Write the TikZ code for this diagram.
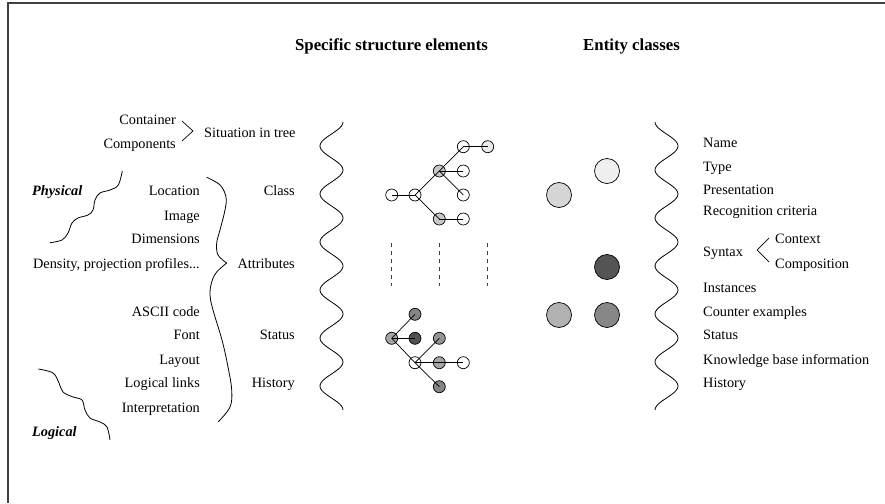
\documentclass[tikz,border=0pt]{standalone}
\usepackage{fontspec}
\setmainfont{Liberation Serif}
\begin{document}
\begin{tikzpicture}[x=1pt,y=-1pt,
  lt/.style={font=\fontsize{14.3}{17}\selectfont, inner sep=0pt, anchor=base east},
  rt/.style={font=\fontsize{14.3}{17}\selectfont, inner sep=0pt, anchor=base west},
  bi/.style={font=\fontsize{14.3}{17}\selectfont\bfseries\itshape, inner sep=0pt, anchor=base west},
  hd/.style={font=\fontsize{16.8}{20}\selectfont\bfseries, inner sep=0pt, anchor=base},
  dot/.style={circle, draw, minimum size=12pt, inner sep=0pt, line width=0.7pt, fill=white},
  big/.style={circle, draw, minimum size=25pt, inner sep=0pt, line width=0.7pt},
  edge/.style={line width=0.7pt},
  curve/.style={line width=0.8pt},
  dsh/.style={line width=0.8pt, black!75, dash pattern=on 4pt off 4pt}]
\useasboundingbox (0,0) rectangle (885,503);
\draw[line width=1.2pt, black!75] (8,503) -- (8,3) -- (885,3);

% headings
\node[hd] (h1) at (391.5,51) {Specific structure elements};
\node[hd] (h2) at (631.5,51) {Entity classes};

% left texts
\node[lt] (cont) at (176,124) {Container};
\node[lt] (comp) at (176,148) {Components};
\node[rt] (sit) at (204,137) {Situation in tree};
\draw[edge] (182,121) -- (193,131) -- (182,141);

\node[bi] (phys) at (32,195) {Physical};
\node[bi] (logi) at (32,436) {Logical};

\node[lt] (loc) at (200,195) {Location};
\node[lt] (img) at (200,220) {Image};
\node[lt] (dim) at (200,243) {Dimensions};
\node[lt] (den) at (200,268) {Density, projection profiles...};
\node[lt] (asc) at (200,316) {ASCII code};
\node[lt] (fon) at (200,339) {Font};
\node[lt] (lay) at (200,364) {Layout};
\node[lt] (lol) at (200,387) {Logical links};
\node[lt] (int) at (200,412) {Interpretation};

\node[lt] (cls) at (295,195) {Class};
\node[lt] (att) at (295,268) {Attributes};
\node[lt] (sta) at (295,339) {Status};
\node[lt] (his) at (295,387) {History};

% squiggles
\draw[curve] plot[smooth, tension=0.6] coordinates {(122.3,171) (118.3,185) (110,190) (100,193) (95,200) (93,210) (88,215) (78,218) (72,223) (68,233) (62,240) (50,242.7)};
\draw[curve] plot[smooth, tension=0.6] coordinates {(38.3,369) (53,373) (59,383) (63,392) (73,397) (82,400) (85,410) (90,418) (100,422) (107,427) (110,440)};

% big left brace
\draw[curve] plot[smooth, tension=0.6] coordinates {(206.7,177.3) (220,185) (226,197) (225,210) (220,230) (216.7,243) (218,255) (226.7,263)};
\draw[curve] plot[smooth, tension=0.6] coordinates {(226.7,263) (216.7,272) (211.7,282) (210,295) (213,310) (222,340) (228,367) (231.7,390) (230,407) (218.3,421.7)};

% wavy lines
\draw[curve] plot[domain=0:12, samples=150, smooth] ({331.5+11.5*cos(\x*180)}, {122+24*\x});
\draw[curve] plot[domain=0:12, samples=150, smooth] ({666.5-11.5*cos(\x*180)}, {122+24*\x});

% tree 1
\node[dot] (a) at (391.7,195) {};
\node[dot] (b) at (415,195) {};
\node[dot, fill=black!22] (c) at (439.3,171) {};
\node[dot] (d) at (463.3,146.7) {};
\node[dot, fill=black!8] (e) at (487.7,146.7) {};
\node[dot] (f) at (463.3,171) {};
\node[dot] (g) at (463.3,195) {};
\node[dot, fill=black!22] (hh) at (439.3,219) {};
\node[dot] (i) at (463.3,219) {};
\draw[edge] (a.center) -- (b.center);
\draw[edge] (b.center) -- (c.center);
\draw[edge] (c.center) -- (d.center);
\draw[edge] (d.center) -- (e.center);
\draw[edge] (c.center) -- (f.center);
\draw[edge] (c.center) -- (g.center);
\draw[edge] (b.center) -- (hh.center);
\draw[edge] (hh.center) -- (i.center);

% dashed
\coordinate (d1t) at (391.7,243); \coordinate (d1b) at (391.7,286);
\coordinate (d2t) at (439.3,243); \coordinate (d2b) at (439.3,286);
\coordinate (d3t) at (487.7,243); \coordinate (d3b) at (487.7,286);
\draw[dsh] (d1t) -- (d1b);
\draw[dsh] (d2t) -- (d2b);
\draw[dsh] (d3t) -- (d3b);

% tree 2
\node[dot, fill=black!35] (p) at (391.7,338.3) {};
\node[dot, fill=black!48] (q) at (415,314.3) {};
\node[dot, fill=black!68] (r) at (415,338.3) {};
\node[dot, fill=black!42] (s) at (439.3,338.3) {};
\node[dot] (t) at (415,362.7) {};
\node[dot, fill=black!35] (u) at (439.3,362.7) {};
\node[dot] (v) at (463.3,362.7) {};
\node[dot, fill=black!48] (w) at (439.3,386.7) {};
\draw[edge] (p.center) -- (q.center);
\draw[edge] (p.center) -- (r.center);
\draw[edge] (p.center) -- (t.center);
\draw[edge] (t.center) -- (w.center);
\draw[edge] (t.center) -- (s.center);
\draw[edge] (t.center) -- (u.center);
\draw[edge] (u.center) -- (v.center);

% entity circles
\node[big, fill=black!6] (e1) at (607,171) {};
\node[big, fill=black!16] (e2) at (559,195) {};
\node[big, fill=black!67] (e3) at (607,267) {};
\node[big, fill=black!30] (e4) at (559,315) {};
\node[big, fill=black!47] (e5) at (607,315) {};

% right texts
\node[rt] (nam) at (703,147) {Name};
\node[rt] (typ) at (703,171) {Type};
\node[rt] (pre) at (703,194) {Presentation};
\node[rt] (rec) at (703,215) {Recognition criteria};
\node[rt] (syn) at (703,256) {Syntax};
\node[rt] (ctx) at (775,243) {Context};
\node[rt] (cmp) at (775,268) {Composition};
\draw[edge] (769,238) -- (757,250) -- (769,262);
\node[rt] (ins) at (703,292) {Instances};
\node[rt] (cex) at (703,316) {Counter examples};
\node[rt] (st2) at (703,339) {Status};
\node[rt] (kbi) at (703,364) {Knowledge base information};
\node[rt] (hi2) at (703,387) {History};
\end{tikzpicture}
\end{document}
